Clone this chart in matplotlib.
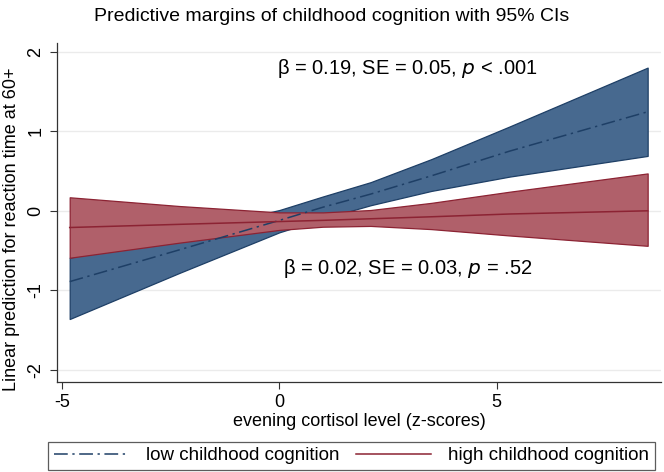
import numpy as np
import matplotlib
matplotlib.use("Agg")
import matplotlib.pyplot as plt
from matplotlib.lines import Line2D

plt.rcParams['font.family'] = ['Liberation Sans', 'DejaVu Sans']

# evening cortisol (z-scores) at which margins were read
cortisol = [-4.83, -2.3, 0.0, 1.0, 2.1, 3.5, 5.3, 8.48]

# low childhood cognition
low_fit = [-0.89, -0.49, -0.12, 0.045, 0.21, 0.44, 0.75, 1.245]
low_lo = [-1.36, -0.78, -0.27, -0.10, 0.07, 0.25, 0.43, 0.69]
low_hi = [-0.59, -0.28, 0.01, 0.18, 0.36, 0.65, 1.06, 1.80]

# high childhood cognition
high_fit = [-0.21, -0.17, -0.135, -0.12, -0.10, -0.075, -0.04, 0.0]
high_lo = [-0.59, -0.40, -0.24, -0.20, -0.19, -0.23, -0.31, -0.44]
high_hi = [0.17, 0.06, -0.02, -0.02, 0.01, 0.10, 0.24, 0.47]

blue_fill = '#47698f'
blue_edge = '#1e3f66'
red_fill = '#b0606a'
red_edge = '#8c2333'
dashdot = (0, (9, 3, 1.5, 3))

fig = plt.figure(figsize=(6.64, 4.72), dpi=100)
ax = fig.add_axes([0.086, 0.191, 0.909, 0.718])

ax.fill_between(cortisol, low_lo, low_hi, facecolor=blue_fill, edgecolor=blue_edge, linewidth=0.9, zorder=2)
ax.plot(cortisol, low_fit, color=blue_edge, linewidth=1.1, linestyle=dashdot, zorder=4)
ax.fill_between(cortisol, high_lo, high_hi, facecolor=red_fill, edgecolor=red_edge, linewidth=0.9, zorder=3)
ax.plot(cortisol, high_fit, color=red_edge, linewidth=1.1, zorder=4)

ax.set_xlim(-5.12, 8.78)
ax.set_ylim(-2.15, 2.11)
ax.set_xticks([-5, 0, 5])
ax.set_yticks([-2, -1, 0, 1, 2])
ax.set_yticklabels(['-2', '-1', '0', '1', '2'], rotation=90, va='center')
ax.set_xticklabels(['-5', '0', '5'])
ax.tick_params(labelsize=13, length=5, width=0.8, color='#333333', pad=4)
ax.grid(axis='y', color='#ebebeb', linewidth=1.0, zorder=0)
ax.set_axisbelow(True)
for side in ['top', 'right']:
    ax.spines[side].set_visible(False)
for side in ['left', 'bottom']:
    ax.spines[side].set_color('#333333')
    ax.spines[side].set_linewidth(0.9)

ax.set_xlabel('evening cortisol level (z-scores)', fontsize=13, labelpad=1)
ax.set_ylabel('Linear prediction for reaction time at 60+', fontsize=13)
ax.yaxis.set_label_coords(-0.062, 0.45)
fig.suptitle('Predictive margins of childhood cognition with 95% CIs', fontsize=14, y=0.983)

ax.text(2.95, 1.79, r'β = 0.19, SE = 0.05, $\it{p}$ < .001', fontsize=14.5, ha='center', va='center')
ax.text(2.95, -0.73, r'β = 0.02, SE = 0.03, $\it{p}$ = .52', fontsize=14.5, ha='center', va='center')

handles = [Line2D([], [], color=blue_edge, linewidth=1.1, linestyle=dashdot),
           Line2D([], [], color=red_edge, linewidth=1.1)]
leg = fig.legend(handles, ['low childhood cognition', 'high childhood cognition'],
                 loc='lower left', bbox_to_anchor=(0.0723, 0.004, 0.914, 0.07), mode='expand',
                 ncol=2, fontsize=13.5, frameon=True, fancybox=False, edgecolor='#333333',
                 handlelength=4.0, borderpad=0.3, handletextpad=0.9, borderaxespad=0.0)
leg.get_frame().set_linewidth(0.9)

fig.savefig('out.png', dpi=100)
